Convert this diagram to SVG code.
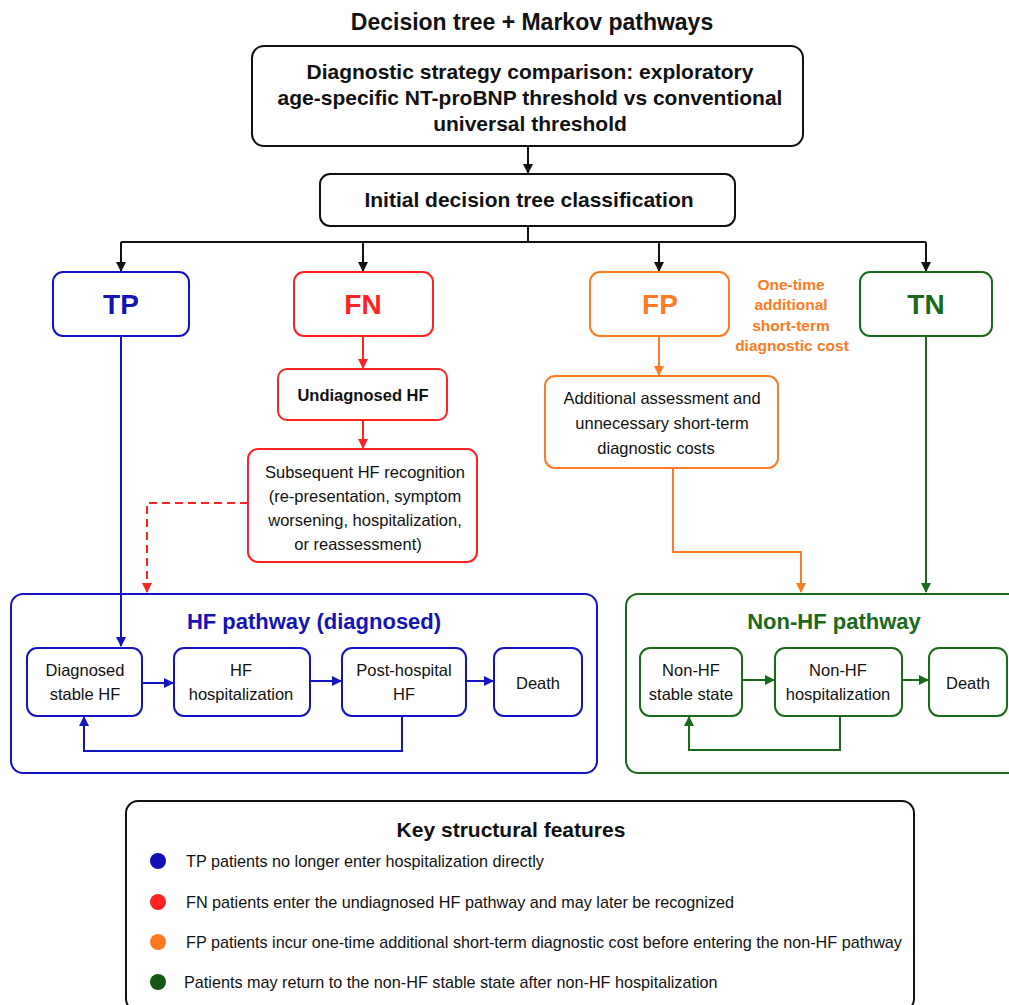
<svg xmlns="http://www.w3.org/2000/svg" width="1009" height="1005" viewBox="0 0 1009 1005">
<style>
text{font-family:"Liberation Sans",Arial,sans-serif;text-anchor:middle;fill:#111}
.t{font-size:21px;font-weight:bold}
.b{fill:#fff;stroke:#111;stroke-width:2}
.blue{stroke:#1414c4}
.red{stroke:#ff2222}
.org{stroke:#ff7a22}
.grn{stroke:#1b6a1b}
.n{font-size:16.5px}
.big{font-size:28px;font-weight:bold}
.ln{fill:none;stroke-width:2}
.k{font-size:16.2px;text-anchor:start}
</style>
<defs>
<marker id="ak" markerWidth="10" markerHeight="10" refX="9" refY="5" orient="auto" markerUnits="userSpaceOnUse"><path d="M0,0 L10,5 L0,10 z" fill="#111"/></marker>
<marker id="ab" markerWidth="10" markerHeight="10" refX="9" refY="5" orient="auto" markerUnits="userSpaceOnUse"><path d="M0,0 L10,5 L0,10 z" fill="#1414c4"/></marker>
<marker id="ar" markerWidth="10" markerHeight="10" refX="9" refY="5" orient="auto" markerUnits="userSpaceOnUse"><path d="M0,0 L10,5 L0,10 z" fill="#ff2222"/></marker>
<marker id="ao" markerWidth="10" markerHeight="10" refX="9" refY="5" orient="auto" markerUnits="userSpaceOnUse"><path d="M0,0 L10,5 L0,10 z" fill="#ff7a22"/></marker>
<marker id="ag" markerWidth="10" markerHeight="10" refX="9" refY="5" orient="auto" markerUnits="userSpaceOnUse"><path d="M0,0 L10,5 L0,10 z" fill="#1b6a1b"/></marker>
</defs>
<rect width="1009" height="1005" fill="#fff"/>
<text x="532" y="30" style="font-size:23px;font-weight:bold">Decision tree + Markov pathways</text>

<g id="n-hf-pathway"><rect class="b blue" x="11" y="594" width="586" height="179" rx="12"/>
<text class="t" x="314" y="629" style="fill:#1414b4;font-size:22px">HF pathway (diagnosed)</text></g>
<g id="n-nonhf-pathway"><rect class="b grn" x="626" y="594" width="400" height="179" rx="12"/>
<text class="t" x="834" y="629" style="fill:#1b6a1b;font-size:22px">Non-HF pathway</text></g>

<g id="connectors">
<path class="ln" stroke="#111" d="M528,146 V173" marker-end="url(#ak)"/>
<path class="ln" stroke="#111" d="M528,226 V242 M121,242 H926"/>
<path class="ln" stroke="#111" d="M121,242 V271" marker-end="url(#ak)"/>
<path class="ln" stroke="#111" d="M363,242 V271" marker-end="url(#ak)"/>
<path class="ln" stroke="#111" d="M659,242 V271" marker-end="url(#ak)"/>
<path class="ln" stroke="#111" d="M926,242 V271" marker-end="url(#ak)"/>
<path class="ln" stroke="#1414c4" d="M121,336 V646" marker-end="url(#ab)"/>
<path class="ln" stroke="#ff2222" d="M363,336 V368" marker-end="url(#ar)"/>
<path class="ln" stroke="#ff2222" d="M363,420 V448" marker-end="url(#ar)"/>
<path class="ln" stroke="#ff2222" stroke-dasharray="8,5" d="M248,503 H147 V592" marker-end="url(#ar)"/>
<path class="ln" stroke="#ff7a22" d="M659,336 V375" marker-end="url(#ao)"/>
<path class="ln" stroke="#ff7a22" d="M673,468 V552 H801 V592" marker-end="url(#ao)"/>
<path class="ln" stroke="#1b6a1b" d="M926,336 V592" marker-end="url(#ag)"/>
<path class="ln" stroke="#1414c4" d="M142,683 H173" marker-end="url(#ab)"/>
<path class="ln" stroke="#1414c4" d="M310,681 H341" marker-end="url(#ab)"/>
<path class="ln" stroke="#1414c4" d="M466,681 H493" marker-end="url(#ab)"/>
<path class="ln" stroke="#1414c4" d="M402,716 V751 H84 V717" marker-end="url(#ab)"/>
<path class="ln" stroke="#1b6a1b" d="M742,680 H774" marker-end="url(#ag)"/>
<path class="ln" stroke="#1b6a1b" d="M902,680 H928" marker-end="url(#ag)"/>
<path class="ln" stroke="#1b6a1b" d="M840,716 V750 H689 V717" marker-end="url(#ag)"/>
</g>

<g id="n-top"><rect class="b" x="252" y="46" width="551" height="100" rx="12"/>
<text class="t" x="530" y="79">Diagnostic strategy comparison: exploratory</text>
<text class="t" x="530" y="105">age-specific NT-proBNP threshold vs conventional</text>
<text class="t" x="530" y="131">universal threshold</text></g>

<g id="n-initial"><rect class="b" x="320" y="174" width="415" height="52" rx="10"/>
<text class="t" x="529" y="207">Initial decision tree classification</text></g>

<g id="n-tp"><rect class="b blue" x="53" y="272" width="136" height="64" rx="10"/>
<text class="big" x="121" y="314" style="fill:#1414b4">TP</text></g>
<g id="n-fn"><rect class="b red" x="294" y="272" width="139" height="64" rx="10"/>
<text class="big" x="363" y="314" style="fill:#ff2222">FN</text></g>
<g id="n-fp"><rect class="b org" x="590" y="272" width="139" height="64" rx="10"/>
<text class="big" x="660" y="314" style="fill:#ff7a22">FP</text></g>
<g id="n-tn"><rect class="b grn" x="860" y="272" width="132" height="64" rx="10"/>
<text class="big" x="926" y="314" style="fill:#1b6a1b">TN</text></g>

<g id="n-fp-note" style="font-weight:bold;font-size:15.5px">
<text x="791" y="290" style="fill:#ff7a22">One-time</text>
<text x="791" y="310" style="fill:#ff7a22">additional</text>
<text x="791" y="331" style="fill:#ff7a22">short-term</text>
<text x="792" y="351" style="fill:#ff7a22">diagnostic cost</text></g>

<g id="n-undiag"><rect class="b red" x="278" y="369" width="169" height="51" rx="9"/>
<text class="n" x="363" y="401" style="font-weight:bold">Undiagnosed HF</text></g>

<g id="n-subseq"><rect class="b red" x="248" y="449" width="229" height="113" rx="10"/>
<text class="n" x="365" y="478">Subsequent HF recognition</text>
<text class="n" x="365" y="502">(re-presentation, symptom</text>
<text class="n" x="365" y="526">worsening, hospitalization,</text>
<text class="n" x="358" y="550">or reassessment)</text></g>

<g id="n-addl"><rect class="b org" x="545" y="376" width="233" height="92" rx="10"/>
<text class="n" x="662" y="404">Additional assessment and</text>
<text class="n" x="662" y="429">unnecessary short-term</text>
<text class="n" x="656" y="454">diagnostic costs</text></g>

<g id="n-dsh"><rect class="b blue" x="27" y="648" width="115" height="68" rx="10"/>
<text class="n" x="85" y="676">Diagnosed</text><text class="n" x="85" y="700">stable HF</text></g>
<g id="n-hfh"><rect class="b blue" x="174" y="648" width="136" height="68" rx="10"/>
<text class="n" x="241" y="676">HF</text><text class="n" x="241" y="700">hospitalization</text></g>
<g id="n-phf"><rect class="b blue" x="342" y="648" width="124" height="68" rx="10"/>
<text class="n" x="404" y="676">Post-hospital</text><text class="n" x="404" y="700">HF</text></g>
<g id="n-death1"><rect class="b blue" x="494" y="648" width="88" height="68" rx="10"/>
<text class="n" x="538" y="689">Death</text></g>

<g id="n-nss"><rect class="b grn" x="640" y="648" width="102" height="68" rx="10"/>
<text class="n" x="691" y="676">Non-HF</text><text class="n" x="691" y="700">stable state</text></g>
<g id="n-nhh"><rect class="b grn" x="775" y="648" width="127" height="68" rx="10"/>
<text class="n" x="838" y="676">Non-HF</text><text class="n" x="838" y="700">hospitalization</text></g>
<g id="n-death2"><rect class="b grn" x="929" y="648" width="78" height="68" rx="10"/>
<text class="n" x="968" y="689">Death</text></g>

<g id="n-key"><rect class="b" x="126" y="801" width="788" height="210" rx="12"/>
<text class="t" x="511" y="837">Key structural features</text>
<circle cx="158" cy="861" r="8" fill="#1010b4"/>
<text class="k" x="186" y="867">TP patients no longer enter hospitalization directly</text>
<circle cx="158" cy="902" r="8" fill="#ff2222"/>
<text class="k" x="186" y="908">FN patients enter the undiagnosed HF pathway and may later be recognized</text>
<circle cx="158" cy="942" r="8" fill="#ff7a22"/>
<text class="k" x="186" y="948">FP patients incur one-time additional short-term diagnostic cost before entering the non-HF pathway</text>
<circle cx="158" cy="982" r="8" fill="#145814"/>
<text class="k" x="184" y="988">Patients may return to the non-HF stable state after non-HF hospitalization</text></g>
</svg>
